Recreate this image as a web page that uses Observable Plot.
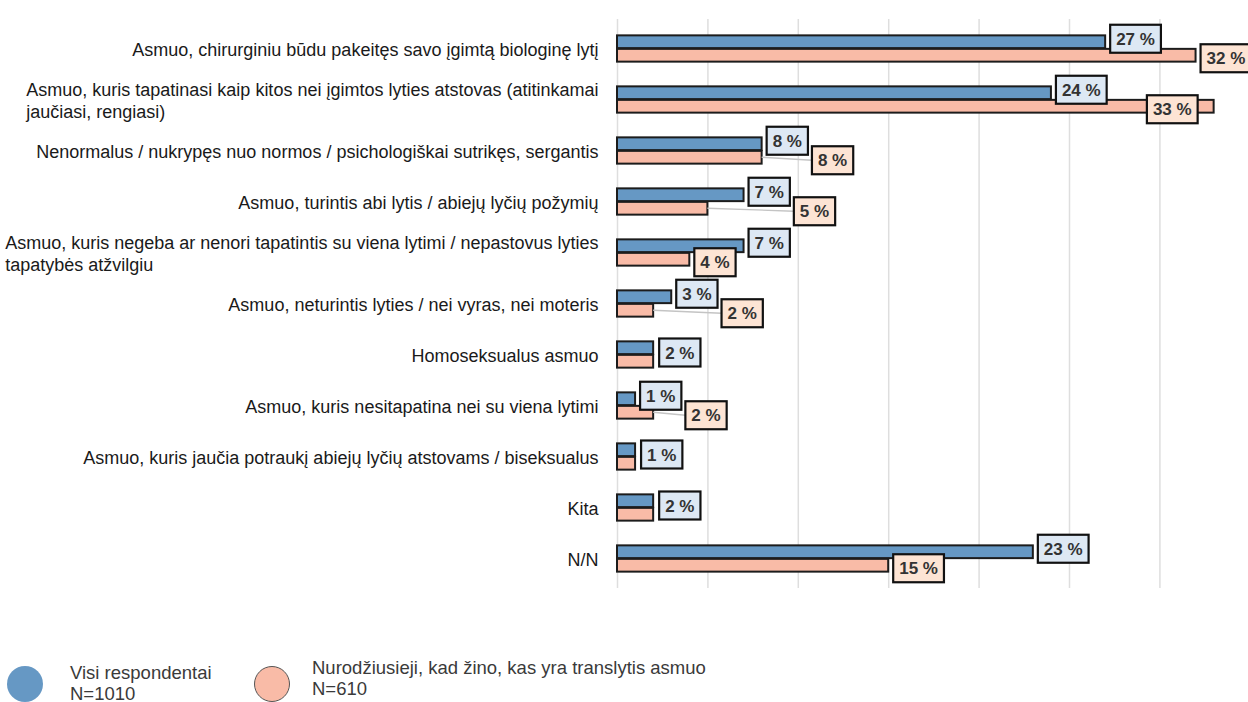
<!DOCTYPE html>
<html><head><meta charset="utf-8">
<script src="https://cdn.jsdelivr.net/npm/d3@7"></script>
<script src="https://cdn.jsdelivr.net/npm/@observablehq/plot@0.6"></script>
<style>
body{margin:0;background:#fff;font-family:"Liberation Sans",Arial,sans-serif;}
#chart{width:1248px;height:600px;position:relative;overflow:hidden}
#legend{position:relative;width:1248px;height:102px;color:#3a3a3a;font-size:18.5px}
.dot{position:absolute;width:36px;height:36px;border-radius:50%;box-sizing:border-box}
.ltxt{position:absolute;line-height:21px;white-space:nowrap}
</style></head><body>
<div id="chart"></div>
<div id="legend"></div>
<script>
// ---- data ----
const categories = [
  "Asmuo, chirurginiu būdu pakeitęs savo įgimtą biologinę lytį",
  "Asmuo, kuris tapatinasi kaip kitos nei įgimtos lyties atstovas (atitinkamai jaučiasi, rengiasi)",
  "Nenormalus / nukrypęs nuo normos / psichologiškai sutrikęs, sergantis",
  "Asmuo, turintis abi lytis / abiejų lyčių požymių",
  "Asmuo, kuris negeba ar nenori tapatintis su viena lytimi / nepastovus lyties tapatybės atžvilgiu",
  "Asmuo, neturintis lyties / nei vyras, nei moteris",
  "Homoseksualus asmuo",
  "Asmuo, kuris nesitapatina nei su viena lytimi",
  "Asmuo, kuris jaučia potraukį abiejų lyčių atstovams / biseksualus",
  "Kita",
  "N/N"
];
const allValues   = [27, 24, 8, 7, 7, 3, 2, 1, 1, 2, 23];
const awareValues = [32, 33, 8, 5, 4, 2, 2, 2, 1, 2, 15];
const seriesNames = ["Visi respondentai", "Nurodžiusieji, kad žino, kas yra translytis asmuo"];
const sampleSizes = ["N=1010", "N=610"];
const gridTicks = [0, 5, 10, 15, 20, 25, 30, 35];

// ---- layout / style ----
const W = 1248, H = 600, mL = 617, mR = 0, mT = 19, mB = 12;
const blue = "#6698c4", salmon = "#f9bba7";
const blueLight = "#dde8f4", peachLight = "#fde4d4";
const fontFam = "Liberation Sans, Arial, sans-serif";
const catSize = 18;
const barH = 13.5;
const band = (H - mT - mB) / categories.length;

const ctx = document.createElement("canvas").getContext("2d");
function tw(s, font) { ctx.font = font; return ctx.measureText(s).width; }
const catFont = `${catSize}px "Liberation Sans", Arial, sans-serif`;
function wrap(s, maxW) {
  const words = s.split(" "); const lines = []; let cur = "";
  for (const w of words) {
    const t = cur ? cur + " " + w : w;
    if (cur && tw(t, catFont) > maxW) { lines.push(cur); cur = w; } else cur = t;
  }
  lines.push(cur); return lines;
}

const rows = categories.map((c, i) => ({category: c, all: allValues[i], aware: awareValues[i]}));

const catMarks = categories.map(c => {
  const lines = wrap(c, 600);
  const bw = d3.max(lines, l => tw(l, catFont));
  return Plot.text([c], {
    y: d => d, text: () => lines.join("\n"),
    frameAnchor: "left", textAnchor: "start", dx: -(19 + bw),
    lineAnchor: "middle", lineHeight: 1.24, fontSize: catSize, fill: "#1a1a1a"
  });
});

const plot = Plot.plot({
  width: W, height: H, marginLeft: mL, marginRight: mR, marginTop: mT, marginBottom: mB,
  style: {fontFamily: fontFam, background: "#fff", overflow: "visible"},
  x: {domain: [0, (W - mL - mR) / 18.08], axis: null},
  y: {domain: categories, padding: 0, axis: null},
  marks: [
    Plot.ruleX(gridTicks, {stroke: "#dedede", strokeWidth: 1.5}),
    Plot.barX(rows, {x: "all", y: "category", fill: blue, stroke: "#1c1c1c", strokeWidth: 2,
      insetTop: band / 2 - barH, insetBottom: band / 2}),
    Plot.barX(rows, {x: "aware", y: "category", fill: salmon, stroke: "#1c1c1c", strokeWidth: 2,
      insetTop: band / 2, insetBottom: band / 2 - barH}),
    ...catMarks
  ]
});
document.getElementById("chart").append(plot);

// ---- value labels (positioned through Plot's scales) ----
const xsS = plot.scale("x"), ysS = plot.scale("y");
const X = xsS.apply ? (v => xsS.apply(v)) : d3.scaleLinear(xsS.domain, xsS.range);
const bwY = ysS.bandwidth != null ? ysS.bandwidth : band;
const Yc = c => (ysS.apply ? ysS.apply(c) : mT + categories.indexOf(c) * band) + bwY / 2;
const lblSize = 17;
const lblFont = `bold ${lblSize}px "Liberation Sans", Arial, sans-serif`;
const pad = 6, boxH = 28;
const boxes = [], leaders = [];
rows.forEach(r => {
  const yc = Yc(r.category);
  const xb = X(r.all), xa = X(r.aware);
  if (r.all === r.aware && r.all < 5) {
    const t = r.all + " %"; const w = tw(t, lblFont) + 2 * pad;
    const left = xb + 6;
    boxes.push({t, left, w, cy: yc - 2, fill: blueLight});
    return;
  }
  const tB = r.all + " %", wB = tw(tB, lblFont) + 2 * pad;
  const bBox = {t: tB, left: xb + 5, w: wB, cy: yc - barH / 2 - 3, fill: blueLight};
  const tA = r.aware + " %", wA = tw(tA, lblFont) + 2 * pad;
  let leftA = xa + 5;
  if (leftA < bBox.left + bBox.w && leftA + wA > bBox.left) leftA = bBox.left + bBox.w + 4;
  if (leftA + wA > W + 8) leftA = xa - 16 - wA;
  const aBox = {t: tA, left: leftA, w: wA, cy: yc + barH / 2 + 3, fill: peachLight};
  boxes.push(bBox, aBox);
  if (leftA - xa > 9) leaders.push({x1: xa, y1: yc + barH / 2, x2: leftA, y2: aBox.cy});
});
const svg = d3.select(plot);
const g = svg.append("g").attr("font-family", fontFam);
g.selectAll("line").data(leaders).join("line")
  .attr("x1", d => d.x1).attr("y1", d => d.y1).attr("x2", d => d.x2).attr("y2", d => d.y2)
  .attr("stroke", "#c4c4c4").attr("stroke-width", 1.3);
g.selectAll("rect").data(boxes).join("rect")
  .attr("x", d => d.left).attr("y", d => d.cy - boxH / 2).attr("width", d => d.w).attr("height", boxH)
  .attr("fill", d => d.fill).attr("stroke", "#111").attr("stroke-width", 2.2);
g.selectAll("text").data(boxes).join("text")
  .attr("x", d => d.left + d.w / 2).attr("y", d => d.cy).attr("dy", "0.36em")
  .attr("text-anchor", "middle").attr("font-size", lblSize).attr("font-weight", "bold")
  .attr("fill", "#333").text(d => d.t);

// ---- legend ----
const lg = document.getElementById("legend");
lg.innerHTML = `
  <div class="dot" style="left:7px;top:66px;background:${blue}"></div>
  <div class="ltxt" style="left:70px;top:62px">${seriesNames[0]}<br>${sampleSizes[0]}</div>
  <div class="dot" style="left:254px;top:66px;background:${salmon};border:1.5px solid #555"></div>
  <div class="ltxt" style="left:312px;top:57px">${seriesNames[1]}<br>${sampleSizes[1]}</div>`;
</script>
</body></html>
